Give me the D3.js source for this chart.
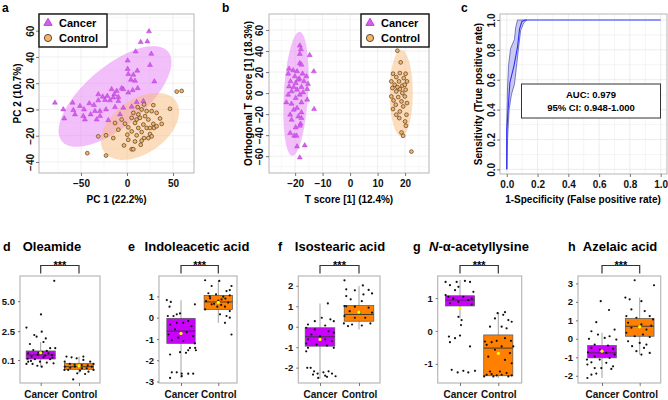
<!DOCTYPE html>
<html lang="en">
<head>
<meta charset="UTF-8">
<title>Cancer vs Control metabolomics</title>
<script src="https://d3js.org/d3.v7.min.js"></script>
<style>
  body { margin: 0; background: #fff; }
  svg { font-family: "Liberation Sans", Arial, sans-serif; font-weight: bold; }
</style>
</head>
<body>
<div id="chart"></div>
<script>
// ---- data ----
const groups = ["Cancer", "Control"];

// a: PCA scores [PC1, PC2]
const pcaCancer = [[23.9,59.5],[14.9,51.3],[22.1,51.8],[9.4,44.1],[26.4,42.3],[0.7,37.2],[25,33.8],[0.7,30.8],[11.2,29.5],[1.4,26.9],
  [6.9,26.4],[4.3,22.6],[8.7,21.8],[29.7,21.3],[-16.7,15.4],[-5.8,16.2],[-4,15.4],[-11.2,14.1],[11.6,16.2],[6.2,14.6],
  [1.4,12.8],[-31.2,11.5],[-21.4,10.3],[-13.8,11.5],[-9.4,9.5],[-26.4,9.7],[-23.9,7.2],[-18.5,6.9],[-9.4,6.4],[-40.9,4.6],
  [-35.9,3.3],[-31.2,6.9],[-78.3,5.1],[-59.1,5.1],[-51.1,2.6],[-69.2,0],[-58.3,-0.5],[-46.7,0],[-34.8,-1.3],[-29.3,-1.3],
  [-22.8,0],[-13,1.8],[-4,1.3],[5.1,2.1],[-56.5,-3.8],[-47.5,-5.1],[-39.5,-3.8],[-29.3,-5.1],[-68.1,-6.9],[-45.7,-7.7],
  [-33,-7.7],[-20.3,-8.2],[-7.6,-3.8],[10.5,5.6],[17.8,6.4],[-14.9,9]];
const pcaControl = [[54,13.6],[59.4,14.1],[46.7,0.5],[18.5,3.8],[28.6,3.3],[11.6,1.8],[15.9,0],[21.4,-1.3],[26.8,-1.3],[6.9,-2.6],
  [12.3,-3.8],[19.6,-5.1],[32.2,-2.6],[5.1,-6.4],[10.5,-7.7],[23.2,-7.7],[35.9,-6.9],[-13,-10.3],[-2.2,-10.8],[8.7,-10.3],
  [17.8,-11.5],[28.6,-11],[37.7,-11],[1.4,-13.6],[12.3,-14.1],[21.4,-14.1],[29.3,-14.1],[-9.4,-15.4],[5.1,-16.7],[15.9,-17.2],
  [25,-18.7],[0.4,-19.2],[10.5,-19.7],[18.5,-21.8],[26.8,-20.5],[-31.2,-20.5],[-22.8,-19.7],[-14.9,-21.8],[1.4,-23.1],[8.7,-24.4],
  [15.9,-23.8],[23.2,-21.8],[-3.3,-27.4],[5.1,-30.3],[6.9,-30.3],[14.9,-26.9],[-43.1,-33.3],[-22.8,-35.1],[25,-14.1],[32.2,-12.8],
  [-5.8,-7.7],[14.1,-6.4]];
// confidence ellipses: centre and two semi-axis vectors (data units)
const pcaEllipses = [
  { group: "Cancer",  c: [-13, 9.9],  a: [57.6, 34.2], b: [21.1, -17.4] },
  { group: "Control", c: [14.1, -12.9], a: [39.1, 19.2], b: [16.8, -16.8] }
];

// b: OPLS-DA scores [T score, orthogonal T score]
const oplsCancer = [[-18.3,45.1],[-17.9,41.6],[-18.3,37.2],[-14.7,36],[-18.3,28.4],[-17.7,27],[-22.2,23.1],[-20.7,21.6],[-13.2,20.6],[-19.3,20.6],
  [-22.5,18.4],[-17.3,18.4],[-20.1,15.9],[-15.9,15.9],[-18.5,13.7],[-21.7,11.1],[-16.8,11.1],[-19.8,9.5],[-15.3,8.6],[-20.5,5.7],
  [-17.7,5.7],[-15.6,3.8],[-19.3,3.2],[-21.3,1.6],[-17.1,0.6],[-22.5,-1.6],[-18.3,-1.6],[-19.8,-4.8],[-15.6,-6.3],[-23.2,-8.9],
  [-21.3,-10.2],[-17.7,-8.9],[-19.3,-14.3],[-20.5,-15.9],[-13.1,-15.2],[-17.7,-18.4],[-21.8,-20.6],[-18.8,-22.2],[-17.7,-23.8],[-21.3,-25.4],
  [-18,-29.2],[-19.8,-32.7],[-18.3,-31.1],[-21.8,-38.1],[-20.3,-40.6],[-19.5,-40.6],[-19.3,-50.8],[-16.5,-49.8],[-18.3,-61.3],[-22.2,6.3],
  [-18.9,12.7]];
const oplsControl = [[17.2,40.3],[18.4,29.2],[15.6,18.4],[18.1,19],[20.2,18.4],[16.8,15.2],[19.5,14.3],[15,11.1],[17.8,11.1],[20.7,11.1],
  [16.2,7.9],[19,7],[15.4,4.8],[18.1,3.8],[20.2,3.2],[16.8,1.6],[19,0],[15,-3.2],[17.5,-3.8],[19.9,-3.2],
  [15.8,-7],[18.7,-7.9],[20.7,-9.5],[16.6,-11.1],[19.3,-12.7],[15.6,-15.2],[18.1,-17.5],[16.8,-20.6],[20.5,-20.6],[17.9,-23.8],
  [20,-27],[20.3,-31.1],[18.7,-37.5],[19.3,-40.6],[22.3,-55.6],[19.9,7.9],[17.2,5.7]];
const oplsEllipses = [
  { group: "Cancer",  c: [-19.7, -0.7], a: [1.3, 59], b: [4.4, 0] },
  { group: "Control", c: [18.6, 0],     a: [0, 41],   b: [4.2, 0] }
];

// c: ROC curve [1-specificity, sensitivity] and its confidence band
const rocCurve = [[0,0],[0,0.26],[0.007,0.375],[0.02,0.58],[0.046,0.69],[0.07,0.82],[0.083,0.94],[0.098,0.99],[0.12,1],[1,1]];
const rocUpper = [[0,0],[0,0.3],[0.005,0.55],[0.012,0.7],[0.025,0.81],[0.05,0.87],[0.058,0.95],[0.07,1],[0.13,1]];
const rocLower = [[0,0],[0.005,0.2],[0.015,0.4],[0.03,0.5],[0.05,0.57],[0.062,0.68],[0.075,0.8],[0.09,0.93],[0.11,0.98],[0.13,1]];
const rocText = ["AUC: 0.979", "95% CI: 0.948-1.000"];

// d-h: box statistics [lower whisker, q1, median, q3, upper whisker, mean]
const metabolites = ["Oleamide", "Indoleacetic acid", "Isostearic acid", "N-α-acetyllysine", "Azelaic acid"];
const boxStats = [
  { Cancer: [-0.46, 0.18, 0.52, 0.85, 1.6, 0.7],    Control: [-1.0, -0.68, -0.46, -0.18, 0.38, -0.4] },
  { Cancer: [-2.83, -1.21, -0.63, -0.03, 0.82, -0.74], Control: [-0.24, 0.39, 0.74, 1.05, 1.73, 0.72] },
  { Cancer: [-2.55, -0.95, -0.49, -0.05, 1.14, -0.62], Control: [-0.13, 0.27, 0.6, 1.04, 1.99, 0.71] },
  { Cancer: [0.38, 0.76, 0.94, 1.07, 1.55, 0.69],   Control: [-1.43, -1.36, -0.52, -0.12, 0.57, -0.68] },
  { Cancer: [-2.12, -1.03, -0.76, -0.36, 0.33, -0.67], Control: [-0.85, 0.14, 0.68, 1.1, 2.23, 0.65] }
];
const boxTicks = [[0.1, 2.5, 5.0], [-3, -2, -1, 0, 1], [-2, -1, 0, 1, 2], [-1, 0, 1], [-2, -1, 0, 1, 2, 3]];
const boxTickLabels = [["0.1", "2.5", "5.0"], ["-3", "-2", "-1", "0", "1"], ["-2", "-1", "0", "1", "2"], ["-1", "0", "1"], ["-2", "-1", "0", "1", "2", "3"]];
const boxDomains = [[-1.82, 7.1], [-3.07, 1.96], [-2.75, 2.48], [-1.58, 1.67], [-2.39, 3.4]];

// jittered points [offset within box (-1..1), value]
const oleamideCancer = [[0.93,6.7],[0.02,3.9],[-0.98,2.8],[0.07,2.46],[-0.44,2.18],[-0.28,2.04],[0.35,1.9],[0.19,1.6],[-0.74,1.43],[0.65,1.08],
  [1.0,1.08],[-0.51,0.93],[0.42,0.85],[-0.16,0.7],[-0.86,0.66],[0.77,0.52],[-0.63,0.38],[0.19,0.32],[-0.4,0.16],[0.65,0.16],
  [-0.86,-0.04],[-0.05,-0.04],[-0.56,-0.23],[-0.98,-0.23],[0.42,-0.12],[-0.23,-0.38],[0.88,-0.18],[0.07,-0.46],[-0.67,0.02],[0.53,0.66],
  [0.3,0.45],[-0.2,0.55],[0.8,0.3],[-0.9,0.2],[0.1,0.75]];
const oleamideControl = [[-0.86,0.38],[-0.51,0.32],[-0.16,0.24],[-0.98,-0.04],[0.3,0.1],[0.77,-0.04],[-0.63,-0.23],[0.19,-0.32],[1.0,-0.23],[-0.98,-0.46],
  [-0.28,-0.46],[0.53,-0.59],[0.88,-0.46],[-0.74,-0.73],[0.07,-0.79],[0.65,-0.88],[-0.4,-1.52],[0.42,-1.07],[-1.0,-0.73],[-0.12,-1.01],
  [0.3,0.38],[1.0,-0.73],[-0.3,-0.3],[0.6,-0.35],[-0.6,-0.55],[0.2,-0.6]];
const indoleCancer = [[-1.0,0.83],[-0.72,0.74],[-0.81,0.52],[-0.3,0.16],[-0.07,0.2],[-0.53,0.08],[-0.93,0.08],[0.98,0.63],[0.16,-0.24],[0.51,-0.16],
  [0.74,-0.4],[-0.77,-0.32],[-0.42,-0.55],[0.4,-0.68],[-0.88,-0.79],[0.86,-0.87],[-0.19,-0.94],[-0.65,-1.06],[0.16,-1.1],[0.98,-1.21],
  [1.0,-1.42],[0.63,-1.42],[1.05,-1.53],[0.51,-1.53],[-0.77,-1.73],[-0.07,-1.62],[0.35,-1.65],[-0.65,-2.57],[-0.3,-2.57],[-0.77,-2.83],
  [0.05,-2.63],[0.51,-2.63],[0.86,-2.63],[0.05,-2.75],[-0.3,-0.24]];
const indoleControl = [[-0.93,1.76],[0.07,1.73],[-0.47,1.49],[0.58,1.25],[0.81,1.3],[-0.7,1.15],[-0.16,1.1],[0.81,1.05],[0.93,1.49],[-0.86,0.78],
  [0.23,0.86],[0.7,0.71],[-0.47,0.63],[-0.07,0.52],[0.47,0.52],[-0.93,0.39],[0.81,0.31],[0.12,0.16],[0.58,0.08],[0.81,0],
  [0.47,-0.24],[0.93,-0.79],[-0.58,0.91],[0.35,0.99],[0.0,0.8],[-0.3,0.65],[0.5,0.9],[-0.6,1.0],[0.2,0.6]];
const isostearicCancer = [[0.53,1.14],[0.12,0.44],[-0.35,0.27],[0.7,0.36],[0.93,0.27],[-0.81,0.11],[0.35,0.06],[-0.93,-0.05],[-0.35,-0.13],[0.58,-0.22],
  [0.93,-0.29],[-0.58,-0.38],[0,-0.46],[-0.81,-0.62],[0.35,-0.62],[0.81,-0.71],[-0.93,-0.82],[-0.23,-0.87],[0.47,-0.92],[-0.81,-1.03],
  [0.93,-1.03],[-0.93,-1.2],[-0.86,-2.01],[-0.63,-2.01],[-0.4,-2.18],[-0.16,-2.29],[0.23,-2.23],[0.58,-2.18],[0.35,-2.39],[0.81,-2.29],
  [1.05,-2.42],[0.47,-2.45],[-0.12,-2.5],[-0.47,-2.34]];
const isostearicControl = [[-0.98,2.27],[-0.86,1.83],[-0.28,1.78],[0.26,2.02],[0.65,1.8],[-0.86,1.5],[0.3,1.58],[0.88,1.63],[-0.56,1.34],[0.19,1.25],
  [-0.98,1.01],[-0.28,0.98],[0.65,0.93],[-0.63,0.76],[0.07,0.69],[0.88,0.69],[-0.98,0.52],[-0.28,0.44],[0.42,0.44],[-1.02,0.16],
  [-0.47,0.11],[0.19,0.06],[0.77,0.16],[-0.74,0.03],[-0.86,1.0]];
const acetyllysineCancer = [[-0.99,1.49],[-0.69,1.39],[-0.23,1.49],[0.34,1.52],[0.69,1.49],[-0.11,1.34],[-0.34,1.24],[0.92,1.19],[-0.8,1.04],[-0.46,0.99],
  [0.23,1.04],[0.57,0.94],[0.8,0.99],[-0.69,0.84],[-0.11,0.89],[0.8,0.81],[0.11,0.33],[-0.11,0.43],[0.07,0.18],[-0.76,-0.17],
  [-0.34,-0.22],[0,-0.14],[-0.69,-0.34],[0.69,-0.47],[-0.57,-1.18],[-0.16,-1.26],[0.23,-1.21],[0.57,-1.26],[1.03,-1.21],[-0.99,1.09]];
const acetyllysineControl = [[-0.05,0.54],[0.34,0.49],[0.46,0.57],[-0.23,0.38],[0.69,0.33],[0.92,0.28],[-0.57,0.13],[0.23,0.13],[0.57,0.08],[-0.92,-0.32],
  [-0.46,-0.34],[-0.11,-0.3],[0.46,-0.22],[0.87,-0.3],[1.03,-0.47],[-0.8,-0.42],[0.23,-0.47],[-0.23,-0.57],[0.8,-0.67],[-0.69,-0.78],
  [0.46,-0.88],[0.92,-0.98],[-0.8,-1.33],[-0.46,-1.31],[-0.11,-1.35],[0.23,-1.33],[0.57,-1.28],[0.92,-1.35],[-0.57,-1.23],[0.11,-1.23],
  [-0.97,-1.38],[0.69,-1.38],[-0.34,-1.38]];
const azelaicCancer = [[-0.09,2.04],[0.49,1.56],[-0.4,0.9],[-0.74,0.41],[0.88,0.5],[-0.28,0.23],[0.53,0.14],[-0.91,0],[0.19,0.05],[1.0,-0.04],
  [-0.51,-0.31],[0.42,-0.36],[-0.74,-0.49],[-0.16,-0.58],[0.77,-0.53],[-0.98,-0.73],[0.3,-0.76],[0.88,-0.85],[-0.51,-0.95],[0.53,-1.03],
  [-1.05,-1.12],[-0.16,-1.12],[-0.74,-1.27],[0.3,-1.3],[0.77,-1.49],[-1.02,-1.39],[-0.51,-1.58],[0.65,-1.63],[-0.4,-1.88],[-0.74,-1.94],
  [-1.02,-2.12],[-0.05,-1.58]];
const azelaicControl = [[-0.35,3.17],[1.0,2.9],[-1.0,2.23],[-0.7,2.14],[0.12,2.04],[-0.58,1.59],[0.35,1.5],[-0.93,1.23],[0.7,1.23],[-0.23,1.14],
  [0.93,1.05],[-0.81,0.87],[0.12,0.78],[0.81,0.72],[-0.58,0.6],[0.47,0.5],[-0.93,0.33],[0.23,0.23],[-0.35,0.14],[0.7,0.1],
  [-0.81,-0.13],[0,-0.22],[0.47,-0.31],[-0.53,-0.4],[0.3,-0.49],[0.7,-0.76],[-0.23,-0.67],[0.12,-0.85]];
const boxPoints = [
  { Cancer: oleamideCancer, Control: oleamideControl },
  { Cancer: indoleCancer, Control: indoleControl },
  { Cancer: isostearicCancer, Control: isostearicControl },
  { Cancer: acetyllysineCancer, Control: acetyllysineControl },
  { Cancer: azelaicCancer, Control: azelaicControl }
];

// ---- layout ----
const W = 668, H = 400;
const svg = d3.select("#chart").append("svg").attr("width", W).attr("height", H);

const ptFill = { Cancer: "#d85cf2", Control: "#f6b46a" };
const ptStroke = { Cancer: "#a834c4", Control: "#3b2a12" };
const ellFill = { Cancer: "#e580f5", Control: "#f7b97a" };
const boxFill = { Cancer: "#cc00ff", Control: "#ff7f00" };

function styleAxis(g, size) {
  g.select(".domain").remove();
  g.selectAll(".tick line").attr("stroke", "#555").attr("stroke-width", 0.8);
  g.selectAll(".tick text").attr("fill", "#111").attr("font-size", size).attr("font-weight", "bold")
    .attr("font-family", "Liberation Sans, Arial, sans-serif");
}

function rotateYLabels(g, off) {
  g.selectAll(".tick text")
    .attr("transform", "rotate(-90)")
    .attr("text-anchor", "middle")
    .attr("x", 0).attr("y", -off).attr("dy", 0);
}

function ellipsePath(e, x, y) {
  const pts = d3.range(0, 361, 5).map(t => {
    const r = t * Math.PI / 180;
    return [x(e.c[0] + e.a[0] * Math.cos(r) + e.b[0] * Math.sin(r)),
            y(e.c[1] + e.a[1] * Math.cos(r) + e.b[1] * Math.sin(r))];
  });
  return d3.line()(pts) + "Z";
}

function grid(g, x, y, xs, ys, color) {
  g.selectAll(null).data(xs).join("line")
    .attr("x1", d => x(d)).attr("x2", d => x(d))
    .attr("y1", y.range()[0]).attr("y2", y.range()[1])
    .attr("stroke", color).attr("stroke-width", 0.6);
  g.selectAll(null).data(ys).join("line")
    .attr("y1", d => y(d)).attr("y2", d => y(d))
    .attr("x1", x.range()[0]).attr("x2", x.range()[1])
    .attr("stroke", color).attr("stroke-width", 0.6);
}

function legend(g, lx, ly) {
  g.append("rect").attr("x", lx).attr("y", ly).attr("width", 68).attr("height", 33)
    .attr("fill", "#fff").attr("stroke", "#111").attr("stroke-width", 1.4);
  g.append("path").attr("d", d3.symbol(d3.symbolTriangle, 30)())
    .attr("transform", `translate(${lx + 9},${ly + 9})`)
    .attr("fill", ptFill.Cancer).attr("stroke", ptStroke.Cancer).attr("stroke-width", 0.8);
  g.append("circle").attr("cx", lx + 9).attr("cy", ly + 24).attr("r", 3.6)
    .attr("fill", ptFill.Control).attr("stroke", ptStroke.Control).attr("stroke-width", 0.8);
  g.append("text").attr("x", lx + 20).attr("y", ly + 13).attr("font-size", 11).text(groups[0]);
  g.append("text").attr("x", lx + 20).attr("y", ly + 28).attr("font-size", 11).text(groups[1]);
}

function drawScatter(p) {
  const g = svg.append("g");
  const x = d3.scaleLinear().domain(p.xDomain).range(p.xRange);
  const y = d3.scaleLinear().domain(p.yDomain).range(p.yRange);
  grid(g, x, y, p.xMinor, p.yMinor, "#f3f3f3");
  grid(g, x, y, p.xTicks, p.yTicks, "#e4e4e4");
  p.ellipses.forEach(e => {
    g.append("path").attr("d", ellipsePath(e, x, y))
      .attr("fill", ellFill[e.group]).attr("fill-opacity", 0.5);
  });
  g.selectAll(null).data(p.cancer).join("path")
    .attr("d", d3.symbol(d3.symbolTriangle, 11)())
    .attr("transform", d => `translate(${x(d[0])},${y(d[1])})`)
    .attr("fill", ptFill.Cancer).attr("stroke", ptStroke.Cancer).attr("stroke-width", 0.4);
  g.selectAll(null).data(p.control).join("circle")
    .attr("cx", d => x(d[0])).attr("cy", d => y(d[1])).attr("r", 1.9)
    .attr("fill", ptFill.Control).attr("stroke", ptStroke.Control).attr("stroke-width", 0.6);
  g.append("rect").attr("x", p.xRange[0]).attr("y", p.yRange[1])
    .attr("width", p.xRange[1] - p.xRange[0]).attr("height", p.yRange[0] - p.yRange[1])
    .attr("fill", "none").attr("stroke", "#b5b5b5").attr("stroke-width", 1);
  const ax = g.append("g").attr("transform", `translate(0,${p.yRange[0]})`)
    .call(d3.axisBottom(x).tickValues(p.xTicks).tickFormat(p.xFormat).tickSize(3).tickPadding(4));
  styleAxis(ax, 10);
  const ay = g.append("g").attr("transform", `translate(${p.xRange[0]},0)`)
    .call(d3.axisLeft(y).tickValues(p.yTicks).tickFormat(p.yFormat).tickSize(3));
  styleAxis(ay, 10);
  rotateYLabels(ay, p.yLabelOff);
  g.append("text").attr("x", (p.xRange[0] + p.xRange[1]) / 2).attr("y", 203)
    .attr("text-anchor", "middle").attr("font-size", 10).text(p.xTitle);
  g.append("text").attr("transform", `translate(${p.yTitleX},${(p.yRange[0] + p.yRange[1]) / 2}) rotate(-90)`)
    .attr("text-anchor", "middle").attr("font-size", 10).text(p.yTitle);
  g.append("text").attr("x", p.letterX).attr("y", 12).attr("font-size", 12).text(p.letter);
  if (p.legendAt) legend(g, p.legendAt[0], p.legendAt[1]);
  return g;
}

// panel a
drawScatter({
  letter: "a", letterX: 2,
  xDomain: [-95.6, 72.8], xRange: [39, 194], yDomain: [-48.4, 72.7], yRange: [173, 14],
  xTicks: [-50, 0, 50], yTicks: [-40, -20, 0, 20, 40, 60],
  xMinor: [-75, -25, 25], yMinor: [-30, -10, 10, 30, 50, 70],
  xFormat: d3.format("d"), yFormat: d3.format("d"), yLabelOff: 5,
  ellipses: pcaEllipses, cancer: pcaCancer, control: pcaControl,
  xTitle: "PC 1 (22.2%)", yTitle: "PC 2 (10.7%)", yTitleX: 21,
  legendAt: [39, 14]
});

// panel b
drawScatter({
  letter: "b", letterX: 222,
  xDomain: [-29.5, 28.7], xRange: [269, 429], yDomain: [-76, 75.2], yRange: [173, 14],
  xTicks: [-20, -10, 0, 10, 20], yTicks: [-60, -40, -20, 0, 20, 40, 60],
  xMinor: [-25, -15, -5, 5, 15, 25], yMinor: [-70, -50, -30, -10, 10, 30, 50, 70],
  xFormat: d3.format("d"), yFormat: d3.format("d"), yLabelOff: 6,
  ellipses: oplsEllipses, cancer: oplsCancer, control: oplsControl,
  xTitle: "T score [1] (12.4%)", yTitle: "Orthogonal T score [1] (18.3%)", yTitleX: 252,
  legendAt: [361, 14]
});

// panel c: ROC
(function () {
  const g = svg.append("g");
  const x = d3.scaleLinear().domain([-0.044, 1.041]).range([500, 667]);
  const y = d3.scaleLinear().domain([-0.031, 1.04]).range([174, 14]);
  const minor = d3.range(0.1, 1.0, 0.2);
  const major = d3.range(0, 1.01, 0.2);
  grid(g, x, y, minor, minor, "#ececec");
  grid(g, x, y, major, major, "#e0e0e0");
  const band = rocUpper.concat(rocLower.slice().reverse());
  g.append("path").attr("d", d3.line().x(d => x(d[0])).y(d => y(d[1]))(band) + "Z")
    .attr("fill", "#c9c9f2").attr("stroke", "#2b2b9a").attr("stroke-width", 0.6);
  g.append("path").attr("d", d3.line().x(d => x(d[0])).y(d => y(d[1]))(rocCurve))
    .attr("fill", "none").attr("stroke", "#2f2fff").attr("stroke-width", 1.1);
  g.append("rect").attr("x", 500).attr("y", 14).attr("width", 167).attr("height", 160)
    .attr("fill", "none").attr("stroke", "#b5b5b5");
  g.append("rect").attr("x", 521.5).attr("y", 84).attr("width", 139).attr("height", 34)
    .attr("fill", "#fff").attr("stroke", "#333").attr("stroke-width", 1);
  g.append("text").attr("x", 591).attr("y", 98).attr("text-anchor", "middle").attr("font-size", 9.5).text(rocText[0]);
  g.append("text").attr("x", 591).attr("y", 111).attr("text-anchor", "middle").attr("font-size", 9.5).text(rocText[1]);
  const ax = g.append("g").attr("transform", "translate(0,174)")
    .call(d3.axisBottom(x).tickValues(major).tickFormat(d3.format(".1f")).tickSize(3).tickPadding(4));
  styleAxis(ax, 10);
  const ay = g.append("g").attr("transform", "translate(500,0)")
    .call(d3.axisLeft(y).tickValues(major).tickFormat(d3.format(".1f")).tickSize(3));
  styleAxis(ay, 10);
  rotateYLabels(ay, 5);
  g.append("text").attr("x", 583).attr("y", 203).attr("text-anchor", "middle").attr("font-size", 10)
    .text("1-Specificity (False positive rate)");
  g.append("text").attr("transform", "translate(482,94) rotate(-90)").attr("text-anchor", "middle")
    .attr("font-size", 10).text("Sensitivity (True positive rate)");
  g.append("text").attr("x", 461).attr("y", 12).attr("font-size", 12).text("c");
})();

// panels d-h: box plots
const boxLayout = [
  { letter: "d", letterX: 3,   titleX: 52,  frame: [20, 100],    centers: [40.7, 79] },
  { letter: "e", letterX: 128, titleX: 197, frame: [159, 237],   centers: [181, 218.3] },
  { letter: "f", letterX: 278, titleX: 340, frame: [298.3, 380], centers: [320, 359] },
  { letter: "g", letterX: 413, titleX: 479, frame: [437.7, 521.7], centers: [460, 498.3] },
  { letter: "h", letterX: 568, titleX: 620, frame: [578, 660.7], centers: [602, 639.7] }
];
const boxTop = 276, boxBottom = 383;

boxLayout.forEach((L, i) => {
  const g = svg.append("g");
  const x = d3.scalePoint().domain(groups).range(L.centers);
  const y = d3.scaleLinear().domain(boxDomains[i]).range([boxBottom, boxTop]);
  const bw = (L.centers[1] - L.centers[0]) * 0.76;

  g.append("rect").attr("x", L.frame[0]).attr("y", boxTop)
    .attr("width", L.frame[1] - L.frame[0]).attr("height", boxBottom - boxTop)
    .attr("fill", "#fff").attr("stroke", "#b8b8b8").attr("stroke-width", 1.2);

  groups.forEach(k => {
    const s = boxStats[i][k];
    const cx = x(k);
    g.append("line").attr("x1", cx).attr("x2", cx).attr("y1", y(s[0])).attr("y2", y(s[4]))
      .attr("stroke", "#8a8a8a").attr("stroke-width", 0.8);
    g.append("rect").attr("x", cx - bw / 2).attr("y", y(s[3]))
      .attr("width", bw).attr("height", y(s[1]) - y(s[3]))
      .attr("fill", boxFill[k]).attr("stroke", "#555").attr("stroke-width", 0.7);
    g.append("line").attr("x1", cx - bw / 2).attr("x2", cx + bw / 2).attr("y1", y(s[2])).attr("y2", y(s[2]))
      .attr("stroke", "#333").attr("stroke-width", 0.9);
    g.selectAll(null).data(boxPoints[i][k]).join("circle")
      .attr("cx", d => cx + d[0] * bw / 2).attr("cy", d => y(d[1])).attr("r", 1.1)
      .attr("fill", "#111");
    g.append("circle").attr("cx", cx).attr("cy", y(s[5])).attr("r", 1.6).attr("fill", "#ffff00");
  });

  const ay = g.append("g").attr("transform", `translate(${L.frame[0]},0)`)
    .call(d3.axisLeft(y).tickValues(boxTicks[i]).tickFormat((d, j) => boxTickLabels[i][j]).tickSize(2).tickPadding(3));
  styleAxis(ay, 9.5);
  const ax = g.append("g").attr("transform", `translate(0,${boxBottom})`)
    .call(d3.axisBottom(x).tickSize(3).tickPadding(5));
  styleAxis(ax, 10);

  // significance bracket
  g.append("path")
    .attr("d", `M${L.centers[0]},273.5V265.5H${L.centers[1]}V273.5`)
    .attr("fill", "none").attr("stroke", "#333").attr("stroke-width", 1.2);
  g.append("text").attr("x", (L.centers[0] + L.centers[1]) / 2).attr("y", 269)
    .attr("text-anchor", "middle").attr("font-size", 11).text("***");

  g.append("text").attr("x", L.letterX).attr("y", 251).attr("font-size", 12.5).text(L.letter);
  const t = g.append("text").attr("x", L.titleX).attr("y", 251).attr("text-anchor", "middle").attr("font-size", 13);
  if (metabolites[i].startsWith("N-")) {
    t.append("tspan").attr("font-style", "italic").text("N");
    t.append("tspan").text(metabolites[i].slice(1));
  } else {
    t.text(metabolites[i]);
  }
});
</script>
</body>
</html>
